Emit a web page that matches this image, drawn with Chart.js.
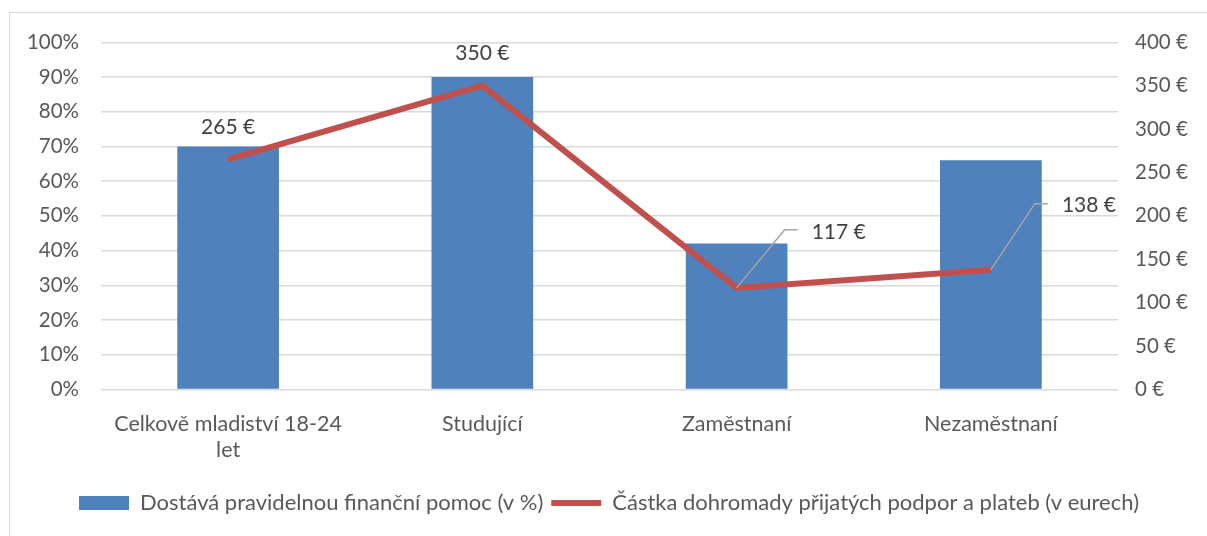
<!DOCTYPE html>
<html lang="cs">
<head>
<meta charset="UTF-8">
<title>Finanční pomoc mladistvým</title>
<script src="https://cdn.jsdelivr.net/npm/chart.js"></script>
<style>
  html, body { margin: 0; padding: 0; background: #fff; overflow: hidden; }
  #frame { position: absolute; left: 9px; top: 12px; width: 1220px; height: 560px;
           border: 1.5px solid #d9d9d9; box-sizing: border-box; }
  #wrap { position: absolute; left: 0; top: -5px; width: 1198px; height: 529px; }
</style>
</head>
<body>
<div id="frame"><div id="wrap"><canvas id="chart"></canvas></div></div>
<script>
// data
const categories = [['Celkově mladiství 18-24', 'let'], 'Studující', 'Zaměstnaní', 'Nezaměstnaní'];
const sharePct = [70, 90, 42, 66];
const amountEur = [265, 350, 117, 138];
const barLabel = 'Dostává pravidelnou finanční pomoc (v %)';
const lineLabel = 'Částka dohromady přijatých podpor a plateb (v eurech)';

const textColor = '#595959';
const fontFamily = 'Lato, "Open Sans", sans-serif';

// label placement for the line values: [dx, dy, leader line?]
// with a leader, dx/dy is the elbow of the leader line
const labelPos = [[0, -32, false], [0, -32, false], [48, -58, true], [44, -66, true]];

const lineLabels = {
  id: 'lineLabels',
  afterDatasetsDraw(chart) {
    const ctx = chart.ctx;
    const meta = chart.getDatasetMeta(1);
    ctx.save();
    ctx.font = '21px ' + fontFamily;
    ctx.fillStyle = '#404040';
    ctx.textBaseline = 'middle';
    meta.data.forEach((pt, i) => {
      const [dx, dy, leader] = labelPos[i];
      const txt = amountEur[i] + ' €';
      if (leader) {
        ctx.strokeStyle = '#a6a6a6';
        ctx.lineWidth = 1.5;
        ctx.beginPath();
        ctx.moveTo(pt.x, pt.y);
        ctx.lineTo(pt.x + dx, pt.y + dy);
        ctx.lineTo(pt.x + dx + 13, pt.y + dy);
        ctx.stroke();
        ctx.textAlign = 'left';
        ctx.fillText(txt, pt.x + dx + 27, pt.y + dy + 2);
      } else {
        ctx.textAlign = 'center';
        ctx.fillText(txt, pt.x + dx, pt.y + dy);
      }
    });
    ctx.restore();
  }
};

new Chart(document.getElementById('chart'), {
  data: {
    labels: categories,
    datasets: [{
      type: 'bar',
      label: barLabel,
      data: sharePct,
      backgroundColor: '#4f81bd',
      borderWidth: 0,
      categoryPercentage: 1,
      barPercentage: 0.4,
      yAxisID: 'y',
      order: 2
    }, {
      type: 'line',
      label: lineLabel,
      data: amountEur,
      borderColor: '#c0504d',
      backgroundColor: '#c0504d',
      borderWidth: 6,
      pointRadius: 0,
      tension: 0,
      yAxisID: 'y1',
      order: 1
    }]
  },
  options: {
    responsive: true,
    maintainAspectRatio: false,
    animation: false,
    layout: { padding: { left: 0, right: 0, top: 6, bottom: 13 } },
    scales: {
      x: {
        grid: { display: false },
        border: { display: false },
        ticks: { color: textColor, font: { family: fontFamily, size: 21.5 }, maxRotation: 0, padding: 14 },
        afterFit(s) { s.height += 7; }
      },
      y: {
        position: 'left',
        min: 0, max: 100,
        ticks: { stepSize: 10, color: textColor, font: { family: fontFamily, size: 20.5 }, padding: 22,
                 callback: v => v + '%' },
        grid: { color: '#d9d9d9', lineWidth: 1.5, drawTicks: false },
        border: { display: false },
        afterFit(s) { s.width = 91; }
      },
      y1: {
        position: 'right',
        min: 0, max: 400,
        ticks: { stepSize: 50, color: textColor, font: { family: fontFamily, size: 20.5 }, padding: 17,
                 callback: v => v + ' €' },
        grid: { display: false, drawTicks: false },
        border: { display: false },
        afterFit(s) { s.width = 90; }
      }
    },
    plugins: {
      legend: {
        position: 'bottom',
        labels: {
          color: textColor,
          font: { family: fontFamily, size: 22 },
          usePointStyle: true,
          pointStyleWidth: 50,
          boxHeight: 14,
          padding: 8,
          generateLabels(chart) {
            return chart.data.datasets.map((ds, i) => ({
              text: ds.label,
              fillStyle: ds.backgroundColor,
              strokeStyle: ds.type === 'line' ? ds.borderColor : ds.backgroundColor,
              lineWidth: ds.type === 'line' ? 6 : 0,
              pointStyle: ds.type === 'line' ? 'line' : 'rect',
              fontColor: textColor,
              datasetIndex: i
            }));
          }
        }
      },
      tooltip: { enabled: false }
    }
  },
  plugins: [lineLabels]
});
</script>
</body>
</html>
